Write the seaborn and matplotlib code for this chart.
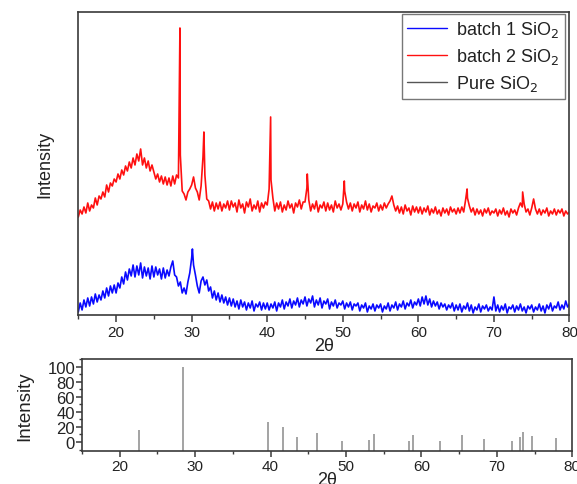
import numpy as np
import pandas as pd
import matplotlib
matplotlib.use("Agg")
import matplotlib.pyplot as plt
from matplotlib.lines import Line2D
from matplotlib.ticker import MultipleLocator
import seaborn as sns

# 2-theta scan grid (degrees), step 0.25
two_theta = np.arange(15.0, 80.001, 0.25)

# batch 2 SiO2 diffractogram (a.u.), one row per 5 degrees
batch2_counts = [
    98, 105, 101, 108, 102, 112, 104, 110, 107, 117, 110, 119, 116, 123, 118, 130, 123, 132, 129, 136,
    133, 141, 136, 145, 140, 149, 144, 153, 147, 157, 150, 161, 154, 166, 150, 157, 147, 154, 144, 150,
    143, 136, 141, 133, 139, 131, 138, 130, 137, 129, 139, 131, 140, 137, 160, 124, 121, 115, 123, 126,
    130, 138, 127, 123, 115, 129, 158, 140, 116, 114, 106, 113, 104, 112, 106, 113, 104, 111, 107, 114,
    105, 114, 108, 112, 103, 115, 107, 111, 102, 113, 108, 116, 104, 110, 106, 114, 103, 112, 107, 113,
    110, 126, 135, 117, 104, 112, 106, 113, 103, 110, 105, 114, 107, 111, 102, 112, 108, 115, 106, 113,
    113, 127, 115, 104, 111, 106, 114, 103, 110, 107, 113, 104, 112, 105, 110, 103, 114, 107, 111, 105,
    111, 124, 113, 106, 112, 104, 111, 107, 113, 103, 110, 106, 114, 105, 111, 103, 109, 107, 112, 104,
    110, 105, 112, 107, 111, 114, 119, 110, 104, 109, 102, 108, 101, 110, 104, 107, 100, 109, 103, 108,
    102, 108, 101, 107, 103, 109, 100, 106, 102, 108, 101, 105, 99, 107, 102, 106, 100, 108, 103, 106,
    101, 107, 102, 108, 103, 115, 117, 109, 103, 107, 100, 106, 101, 105, 99, 106, 102, 107, 100, 104,
    102, 106, 99, 105, 101, 107, 100, 104, 98, 106, 102, 105, 100, 107, 112, 108, 111, 103, 106, 100,
    107, 116, 106, 101, 106, 100, 105, 102, 107, 99, 104, 101, 106, 100, 105, 102, 106, 99, 104, 101,
    103,
]
# sharp reflections of batch 2 (position in degrees, apex in a.u.)
batch2_peak_pos = [28.45, 31.62, 40.45, 45.3, 50.2, 66.45, 73.8]
batch2_peak_top = [287, 183, 198, 141, 134, 126, 123]

# batch 1 SiO2 diffractogram (a.u.), one row per 5 degrees
batch1_counts = [
    3, 12, 5, 15, 8, 17, 9, 18, 11, 21, 13, 20, 15, 24, 17, 27, 19, 29, 22, 30,
    22, 32, 27, 38, 31, 43, 35, 46, 39, 50, 38, 49, 40, 52, 37, 48, 39, 47, 36, 49,
    38, 48, 40, 46, 36, 47, 37, 45, 39, 48, 54, 40, 38, 29, 33, 22, 27, 21, 33, 42,
    57, 50, 40, 29, 22, 34, 38, 30, 35, 24, 28, 17, 24, 15, 22, 13, 20, 12, 18, 10,
    17, 9, 16, 8, 14, 6, 15, 8, 13, 5, 12, 7, 14, 4, 11, 8, 13, 5, 12, 6,
    12, 5, 11, 7, 13, 4, 12, 8, 15, 6, 13, 9, 16, 7, 14, 10, 17, 8, 15, 11,
    18, 9, 16, 12, 19, 8, 15, 10, 17, 7, 14, 11, 16, 6, 13, 9, 15, 7, 12, 10,
    14, 6, 12, 8, 13, 5, 11, 9, 12, 4, 10, 7, 12, 3, 9, 6, 11, 4, 10, 7,
    11, 3, 9, 6, 12, 4, 10, 7, 13, 5, 11, 8, 14, 6, 12, 9, 15, 7, 13, 10,
    16, 9, 18, 11, 19, 10, 16, 8, 14, 9, 13, 6, 12, 8, 11, 5, 10, 7, 12, 4,
    10, 5, 11, 3, 9, 6, 12, 4, 10, 2, 8, 5, 11, 3, 9, 6, 10, 4, 8, 5,
    18, 4, 10, 3, 9, 5, 11, 2, 8, 6, 10, 3, 9, 5, 11, 4, 8, 2, 9, 6,
    10, 3, 8, 5, 11, 4, 9, 2, 10, 6, 12, 4, 9, 7, 13, 5, 10, 6, 14, 8,
    11,
]
batch1_peak_pos = [30.1]
batch1_peak_top = [66]

# reference pattern of pure SiO2 (relative intensity, %)
pure_pos = [22.5, 28.4, 39.7, 41.7, 43.5, 46.1, 49.5, 53.1, 53.7, 58.4, 58.9,
            62.5, 65.4, 68.3, 72.0, 73.0, 73.5, 74.7, 77.8]
pure_int = [16, 100, 26, 19.5, 7, 11.5, 2, 3, 10.5, 2, 9,
            2, 9, 4, 1, 6.5, 13, 8.5, 5]

labels = ["batch 1 SiO$_2$", "batch 2 SiO$_2$", "Pure SiO$_2$"]
colors = ["#0a0aff", "#ff1010", "#555555"]


def pattern(grid, counts, ppos, ptop, name):
    x = np.concatenate([grid, ppos])
    y = np.concatenate([np.asarray(counts, float), ptop])
    return pd.DataFrame({"two_theta": x, "intensity": y, "sample": name})


df = pd.concat([
    pattern(two_theta, batch1_counts, batch1_peak_pos, batch1_peak_top, labels[0]),
    pattern(two_theta, batch2_counts, batch2_peak_pos, batch2_peak_top, labels[1]),
], ignore_index=True)

sns.set_theme(style="ticks")
plt.rcParams["font.family"] = ["Liberation Sans", "DejaVu Sans"]
plt.rcParams["axes.edgecolor"] = "#3a3a3a"
plt.rcParams["axes.linewidth"] = 1.2

fig = plt.figure(figsize=(5.77, 4.85), dpi=100)
ax1 = fig.add_axes([0.1357, 0.3485, 0.8513, 0.6247])
ax2 = fig.add_axes([0.1421, 0.069, 0.8498, 0.1887])

sns.lineplot(data=df, x="two_theta", y="intensity", hue="sample",
             palette={labels[0]: colors[0], labels[1]: colors[1]},
             estimator=None, sort=True, linewidth=1.2, legend=False, ax=ax1)

ax1.set_xlim(15, 80)
ax1.set_ylim(0, 303)
ax1.set_yticks([])
ax1.xaxis.set_major_locator(MultipleLocator(10))
ax1.xaxis.set_minor_locator(MultipleLocator(5))
ax1.tick_params(axis="x", which="major", direction="out", length=5, width=1.1,
                labelsize=11, pad=2, colors="#3a3a3a", labelcolor="#222222")
ax1.tick_params(axis="x", which="minor", direction="out", length=3, width=1.0,
                colors="#3a3a3a")
ax1.set_xlabel("2θ", fontsize=13, labelpad=-1, color="#222222")
ax1.set_ylabel("Intensity", fontsize=13, labelpad=18, color="#222222")
for s in ax1.spines.values():
    s.set_visible(True)

handles = [Line2D([], [], color=c, lw=1.0) for c in colors]
leg = ax1.legend(handles, labels, loc="upper right", bbox_to_anchor=(0.99, 0.995),
                 borderaxespad=0, fontsize=13, frameon=True, fancybox=False,
                 handlelength=2.2, handletextpad=0.5, labelspacing=0.4,
                 borderpad=0.3)
leg.get_frame().set_edgecolor("#555555")
leg.get_frame().set_linewidth(1.0)
leg.get_frame().set_facecolor("white")
for t in leg.get_texts():
    t.set_color("#222222")

# stick pattern drawn from the axis floor up to each relative intensity
ybot = -11.3
ax2.set_xlim(15, 80)
ax2.set_ylim(ybot, 110.2)
ax2.vlines(pure_pos, ybot, pure_int, color="#8a8a8a", linewidth=1.1)
ax2.xaxis.set_major_locator(MultipleLocator(10))
ax2.xaxis.set_minor_locator(MultipleLocator(5))
ax2.yaxis.set_major_locator(MultipleLocator(20))
ax2.yaxis.set_minor_locator(MultipleLocator(10))
ax2.tick_params(axis="both", which="major", direction="out", length=4, width=1.1,
                labelsize=11, pad=2, colors="#3a3a3a", labelcolor="#222222")
ax2.tick_params(axis="both", which="minor", direction="out", length=2.5, width=1.0,
                colors="#3a3a3a")
ax2.tick_params(axis="y", labelsize=12, pad=1)
ax2.set_xlabel("2θ", fontsize=13, labelpad=-1, color="#222222")
ax2.set_ylabel("Intensity", fontsize=13.5, labelpad=10, color="#222222")
for s in ax2.spines.values():
    s.set_visible(True)

fig.savefig("out.png", dpi=100)
